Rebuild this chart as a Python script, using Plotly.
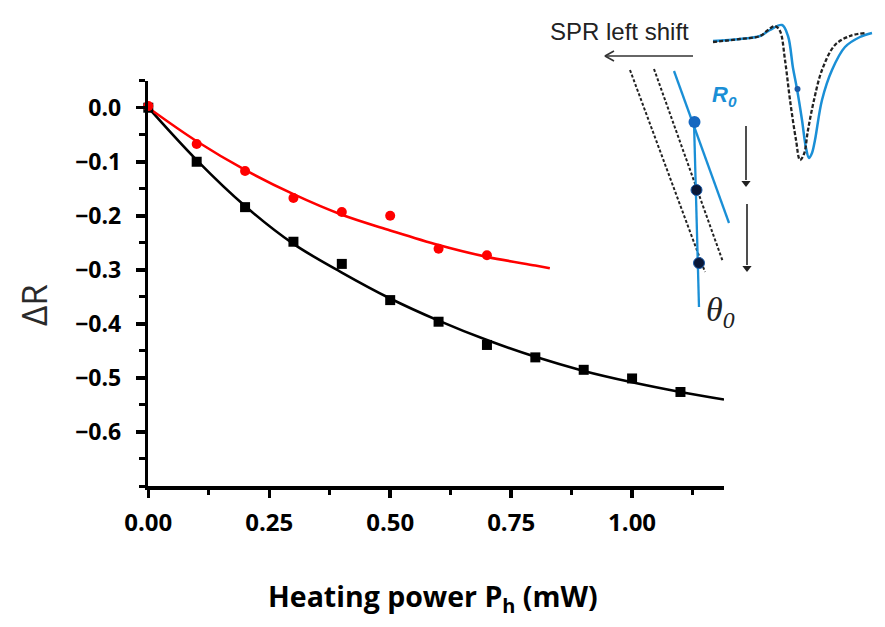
import plotly.graph_objects as go

# ---------------- data ----------------
power_black = [0.0, 0.1, 0.2, 0.3, 0.4, 0.5, 0.6, 0.7, 0.8, 0.9, 1.0, 1.1]
dr_black = [0.0, -0.100, -0.184, -0.248, -0.289, -0.356, -0.396, -0.439, -0.462, -0.485, -0.501, -0.526]

power_red = [0.0, 0.1, 0.2, 0.3, 0.4, 0.5, 0.6, 0.7]
dr_red = [0.003, -0.067, -0.117, -0.167, -0.193, -0.200, -0.261, -0.273]

fit_black_x = [0.0, 0.1, 0.2, 0.3, 0.4, 0.5, 0.6, 0.7, 0.8, 0.9, 1.0, 1.1, 1.19]
fit_black_y = [0.0, -0.097, -0.182, -0.252, -0.305, -0.353, -0.394, -0.430, -0.461, -0.487, -0.508, -0.526, -0.540]

fit_red_x = [0.0, 0.1, 0.2, 0.3, 0.4, 0.5, 0.6, 0.7, 0.8, 0.83]
fit_red_y = [0.0, -0.062, -0.115, -0.160, -0.198, -0.227, -0.254, -0.276, -0.292, -0.297]

x_tickvals = [0.0, 0.25, 0.5, 0.75, 1.0]
x_ticktext = ["0.00", "0.25", "0.50", "0.75", "1.00"]
x_minor = [0.125, 0.375, 0.625, 0.875, 1.125]
y_tickvals = [0.0, -0.1, -0.2, -0.3, -0.4, -0.5, -0.6]
y_ticktext = ["0.0", "\u22120.1", "\u22120.2", "\u22120.3", "\u22120.4", "\u22120.5", "\u22120.6"]
y_minor = [0.05, -0.05, -0.15, -0.25, -0.35, -0.45, -0.55, -0.65, -0.70]

# ---------------- inset illustration geometry (pixel units of the figure) ----------------
spr_blue_x = [713, 740, 760, 770, 782, 788, 793, 797, 802, 806, 809, 812, 815, 822, 832, 845, 860, 872]
spr_blue_y = [41, 39, 36, 30, 25, 36, 68, 89, 120, 148, 158, 153, 140, 100, 70, 47, 37, 33]
spr_dash_x = [713, 740, 760, 768, 775, 780, 785, 790, 796, 800, 804, 808, 814, 822, 835, 850, 865]
spr_dash_y = [42, 39, 36, 30, 26, 31, 60, 100, 140, 160, 154, 130, 100, 70, 45, 36, 33]
dash_line1_x = [630, 705]
dash_line1_y = [70, 272]
dash_line2_x = [654, 723]
dash_line2_y = [69, 262]
blue_slant_x = [674, 729]
blue_slant_y = [71, 223]
blue_vert_x = [694, 699]
blue_vert_y = [122, 307]
r0_dot = (694.5, 122)
dark_dots_x = [696.5, 699]
dark_dots_y = [190, 263]
small_dot = (797.5, 89)

BLUE = "#1a8fd6"
RED = "#ff0000"

fig = go.Figure()

# main fitted curves
fig.add_trace(go.Scatter(x=fit_black_x, y=fit_black_y, mode="lines",
                         line=dict(color="black", width=2.6, shape="spline"),
                         xaxis="x", yaxis="y", showlegend=False))
fig.add_trace(go.Scatter(x=fit_red_x, y=fit_red_y, mode="lines",
                         line=dict(color=RED, width=2.6, shape="spline"),
                         xaxis="x", yaxis="y", showlegend=False))
# data points
fig.add_trace(go.Scatter(x=power_black, y=dr_black, mode="markers",
                         marker=dict(symbol="square", size=10, color="black"),
                         xaxis="x", yaxis="y", showlegend=False, cliponaxis=False))
fig.add_trace(go.Scatter(x=power_red, y=dr_red, mode="markers",
                         marker=dict(symbol="circle", size=10, color=RED),
                         xaxis="x", yaxis="y", showlegend=False, cliponaxis=False))

# inset (drawn on an overlay axis in pixel units)
def ov(x, y, **kw):
    fig.add_trace(go.Scatter(x=x, y=y, xaxis="x2", yaxis="y2", showlegend=False,
                             hoverinfo="skip", cliponaxis=False, **kw))

ov(spr_blue_x, spr_blue_y, mode="lines", line=dict(color=BLUE, width=2.5, shape="spline"))
ov(spr_dash_x, spr_dash_y, mode="lines", line=dict(color="#222222", width=2.3, shape="spline", dash="4px,2px"))
ov(dash_line1_x, dash_line1_y, mode="lines", line=dict(color="#222222", width=2, dash="3px,2px"))
ov(dash_line2_x, dash_line2_y, mode="lines", line=dict(color="#222222", width=2, dash="3px,2px"))
ov(blue_slant_x, blue_slant_y, mode="lines", line=dict(color=BLUE, width=2.3))
ov(blue_vert_x, blue_vert_y, mode="lines", line=dict(color=BLUE, width=2.3))
ov([r0_dot[0]], [r0_dot[1]], mode="markers", marker=dict(size=12, color="#1668c0"))
ov(dark_dots_x, dark_dots_y, mode="markers", marker=dict(size=11, color="#0a1838", line=dict(color="#1a5aa8", width=1)))
ov([small_dot[0]], [small_dot[1]], mode="markers", marker=dict(size=6, color="#1a5aa8"))
# left arrow (shaft + open head)
ov([693, 605], [56, 56], mode="lines", line=dict(color="#333333", width=1.6))
ov([614, 605, 614], [51, 56, 61], mode="lines", line=dict(color="#333333", width=1.6))
# down arrows (shafts + filled heads)
ov([746, 746], [126, 180], mode="lines", line=dict(color="#222222", width=1.6))
ov([747, 747], [204, 265], mode="lines", line=dict(color="#222222", width=1.6))
ov([746, 747], [183, 268], mode="markers",
   marker=dict(symbol="triangle-down", size=8, color="#222222"))

annotations = [
    dict(x=619, y=31, xref="x2", yref="y2", showarrow=False, text="SPR left shift",
         font=dict(family="Liberation Sans", size=24, color="#222222")),
    dict(x=724, y=96, xref="x2", yref="y2", showarrow=False,
         text="<b><i>R<sub>0</sub></i></b>",
         font=dict(family="Liberation Sans", size=22, color=BLUE)),
    dict(x=720, y=312, xref="x2", yref="y2", showarrow=False,
         text="<i>\u03b8<sub>0</sub></i>",
         font=dict(family="Liberation Serif", size=34, color="#222222")),
    dict(x=33, y=305, xref="x2", yref="y2", showarrow=False, text="\u0394R", textangle=-90,
         font=dict(family="Open Sans", size=35, color="#2a2a2a")),
    dict(x=433, y=598, xref="x2", yref="y2", showarrow=False,
         text="Heating power P<sub>h</sub> (mW)",
         font=dict(family="Open Sans", size=28.5, color="black", weight="bold")),
]

W, H = 885, 627
px_l, px_r, px_t, px_b = 148.3, 724.0, 80.7, 486.0

fig.update_layout(
    template="none",
    width=W, height=H,
    margin=dict(l=0, r=0, t=0, b=0, autoexpand=False),
    paper_bgcolor="white", plot_bgcolor="rgba(0,0,0,0)",
    showlegend=False,
    annotations=annotations,
    xaxis=dict(domain=[px_l / W, px_r / W], range=[0, 1.19], anchor="y", automargin=False,
               showgrid=False, zeroline=False, showline=True, linecolor="black", linewidth=3.5,
               tickmode="array", tickvals=x_tickvals, ticktext=x_ticktext,
               ticks="outside", ticklen=8, tickwidth=3.5, tickcolor="black",
               ticklabelstandoff=5,
               tickfont=dict(family="Open Sans", size=24, color="black", weight="bold"),
               minor=dict(tickmode="array", tickvals=x_minor, ticks="outside", ticklen=5,
                          tickwidth=3, tickcolor="black", showgrid=False),
               fixedrange=True),
    yaxis=dict(domain=[1 - px_b / H, 1 - px_t / H], range=[-0.70, 0.05], anchor="x", automargin=False,
               showgrid=False, zeroline=False, showline=True, linecolor="black", linewidth=3.5,
               tickmode="array", tickvals=y_tickvals, ticktext=y_ticktext,
               ticks="outside", ticklen=9, tickwidth=3.5, tickcolor="black",
               ticklabelstandoff=10,
               tickfont=dict(family="Open Sans", size=23, color="black", weight="bold"),
               minor=dict(tickmode="array", tickvals=y_minor, ticks="outside", ticklen=6,
                          tickwidth=3, tickcolor="black", showgrid=False),
               fixedrange=True),
    xaxis2=dict(domain=[0, 1], range=[0, W], anchor="y2", visible=False, fixedrange=True,
                automargin=False),
    yaxis2=dict(domain=[0, 1], range=[H, 0], anchor="x2", visible=False, fixedrange=True,
                automargin=False),
)

fig.write_html("out.html", config={"displayModeBar": False, "staticPlot": True},
               post_script="document.body.style.margin='0px';document.body.style.padding='0px';")
